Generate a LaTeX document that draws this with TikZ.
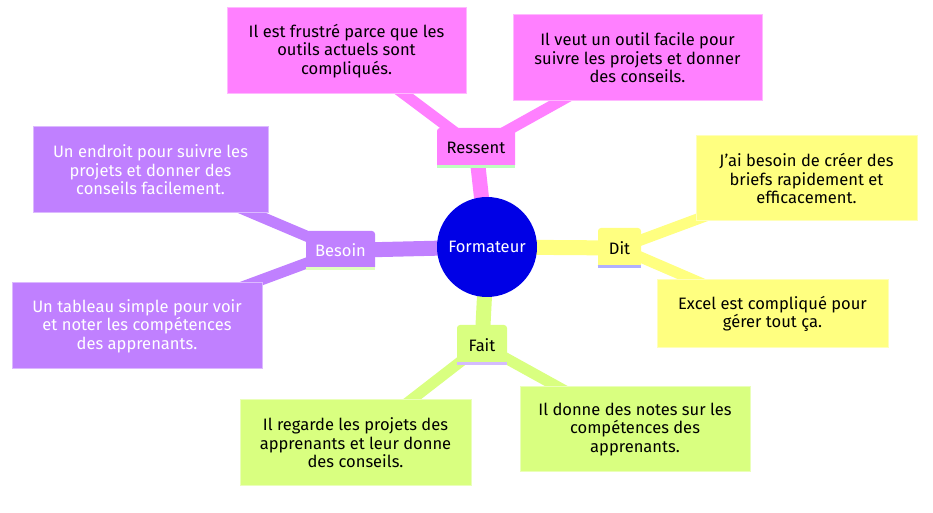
\documentclass[tikz,border=0pt]{standalone}
\usepackage{fontspec}
\setmainfont{Fira Sans}
\usetikzlibrary{backgrounds}

\definecolor{rootblue}{RGB}{0,0,230}
\definecolor{rpink}{RGB}{255,128,255}
\definecolor{dyellow}{RGB}{255,255,128}
\definecolor{bpurple}{RGB}{192,128,255}
\definecolor{fgreen}{RGB}{217,255,128}
\definecolor{rline}{RGB}{191,255,191}
\definecolor{dline}{RGB}{176,176,255}
\definecolor{bline}{RGB}{223,255,191}
\definecolor{fline}{RGB}{212,188,255}

\begin{document}
\begin{tikzpicture}[x=0.75pt,y=-0.75pt,
				every node/.style={font=\fontsize{12.4}{13.8}\selectfont},
				sz/.style 2 args={minimum width=#1*0.75pt,minimum height=#2*0.75pt},
				root/.style={circle,fill=rootblue,text=white,minimum size=75pt,inner sep=0pt},
				sect/.style 2 args={fill=#1,rounded corners=2.25pt,inner sep=0pt,
					append after command={([yshift=1.125pt]\tikzlastnode.south west)
						edge[line width=2.25pt,#2] ([yshift=1.125pt]\tikzlastnode.south east)}},
				leaf/.style={fill=#1,draw=#1!55!white,line width=0.75pt,inner sep=0pt,align=center},
				trunk/.style={line width=11.25pt,#1},
				twig/.style={line width=8.25pt,#1}]
			\useasboundingbox (0,0) rectangle (933,513);
			\node [root] (root) at (487,247) {Formateur};
			% branches
			\node [sect={rpink}{rline},sz={78}{40}] (ressent) at (476,148) {Ressent};
			\node [sect={dyellow}{dline},sz={43}{40}] (dit) at (619.5,248) {Dit};
			\node [sect={bpurple}{bline},sz={69}{39},text=white] (besoin) at (340.5,250.5) {Besoin};
			\node [sect={fgreen}{fline},sz={50}{40}] (fait) at (482,345) {Fait};
			% leaves
			\node [leaf=rpink,sz={239}{86}] (r1) at (346.5,51)
				{Il est frustré parce que les\\outils actuels sont\\compliqués.};
			\node [leaf=rpink,sz={249}{86}] (r2) at (637.5,58)
				{Il veut un outil facile pour\\suivre les projets et donner\\des conseils.};
			\node [leaf=dyellow,sz={221}{85}] (d1) at (806.5,178.5)
				{J’ai besoin de créer des\\briefs rapidement et\\efficacement.};
			\node [leaf=dyellow,sz={231}{68}] (d2) at (772.5,314)
				{Excel est compliqué pour\\gérer tout ça.};
			\node [leaf=bpurple,sz={235}{86},text=white] (b1) at (150.5,170)
				{Un endroit pour suivre les\\projets et donner des\\conseils facilement.};
			\node [leaf=bpurple,sz={250}{86},text=white] (b2) at (137,326)
				{Un tableau simple pour voir\\et noter les compétences\\des apprenants.};
			\node [leaf=fgreen,sz={231}{86}] (f1) at (355.5,443)
				{Il regarde les projets des\\apprenants et leur donne\\des conseils.};
			\node [leaf=fgreen,sz={230}{85}] (f2) at (635,429.5)
				{Il donne des notes sur les\\compétences des\\apprenants.};
			\begin{scope}[on background layer]
				\draw [trunk=rpink] (root.center) -- (ressent.center);
				\draw [trunk=dyellow] (root.center) -- (dit.center);
				\draw [trunk=bpurple] (root.center) -- (besoin.center);
				\draw [trunk=fgreen] (root.center) -- (fait.center);
				\draw [twig=rpink] (ressent.center) -- (r1.center);
				\draw [twig=rpink] (ressent.center) -- (r2.center);
				\draw [twig=dyellow] (dit.center) -- (d1.center);
				\draw [twig=dyellow] (dit.center) -- (d2.center);
				\draw [twig=bpurple] (besoin.center) -- (b1.center);
				\draw [twig=bpurple] (besoin.center) -- (b2.center);
				\draw [twig=fgreen] (fait.center) -- (f1.center);
				\draw [twig=fgreen] (fait.center) -- (f2.center);
			\end{scope}
		\end{tikzpicture}
\end{document}
